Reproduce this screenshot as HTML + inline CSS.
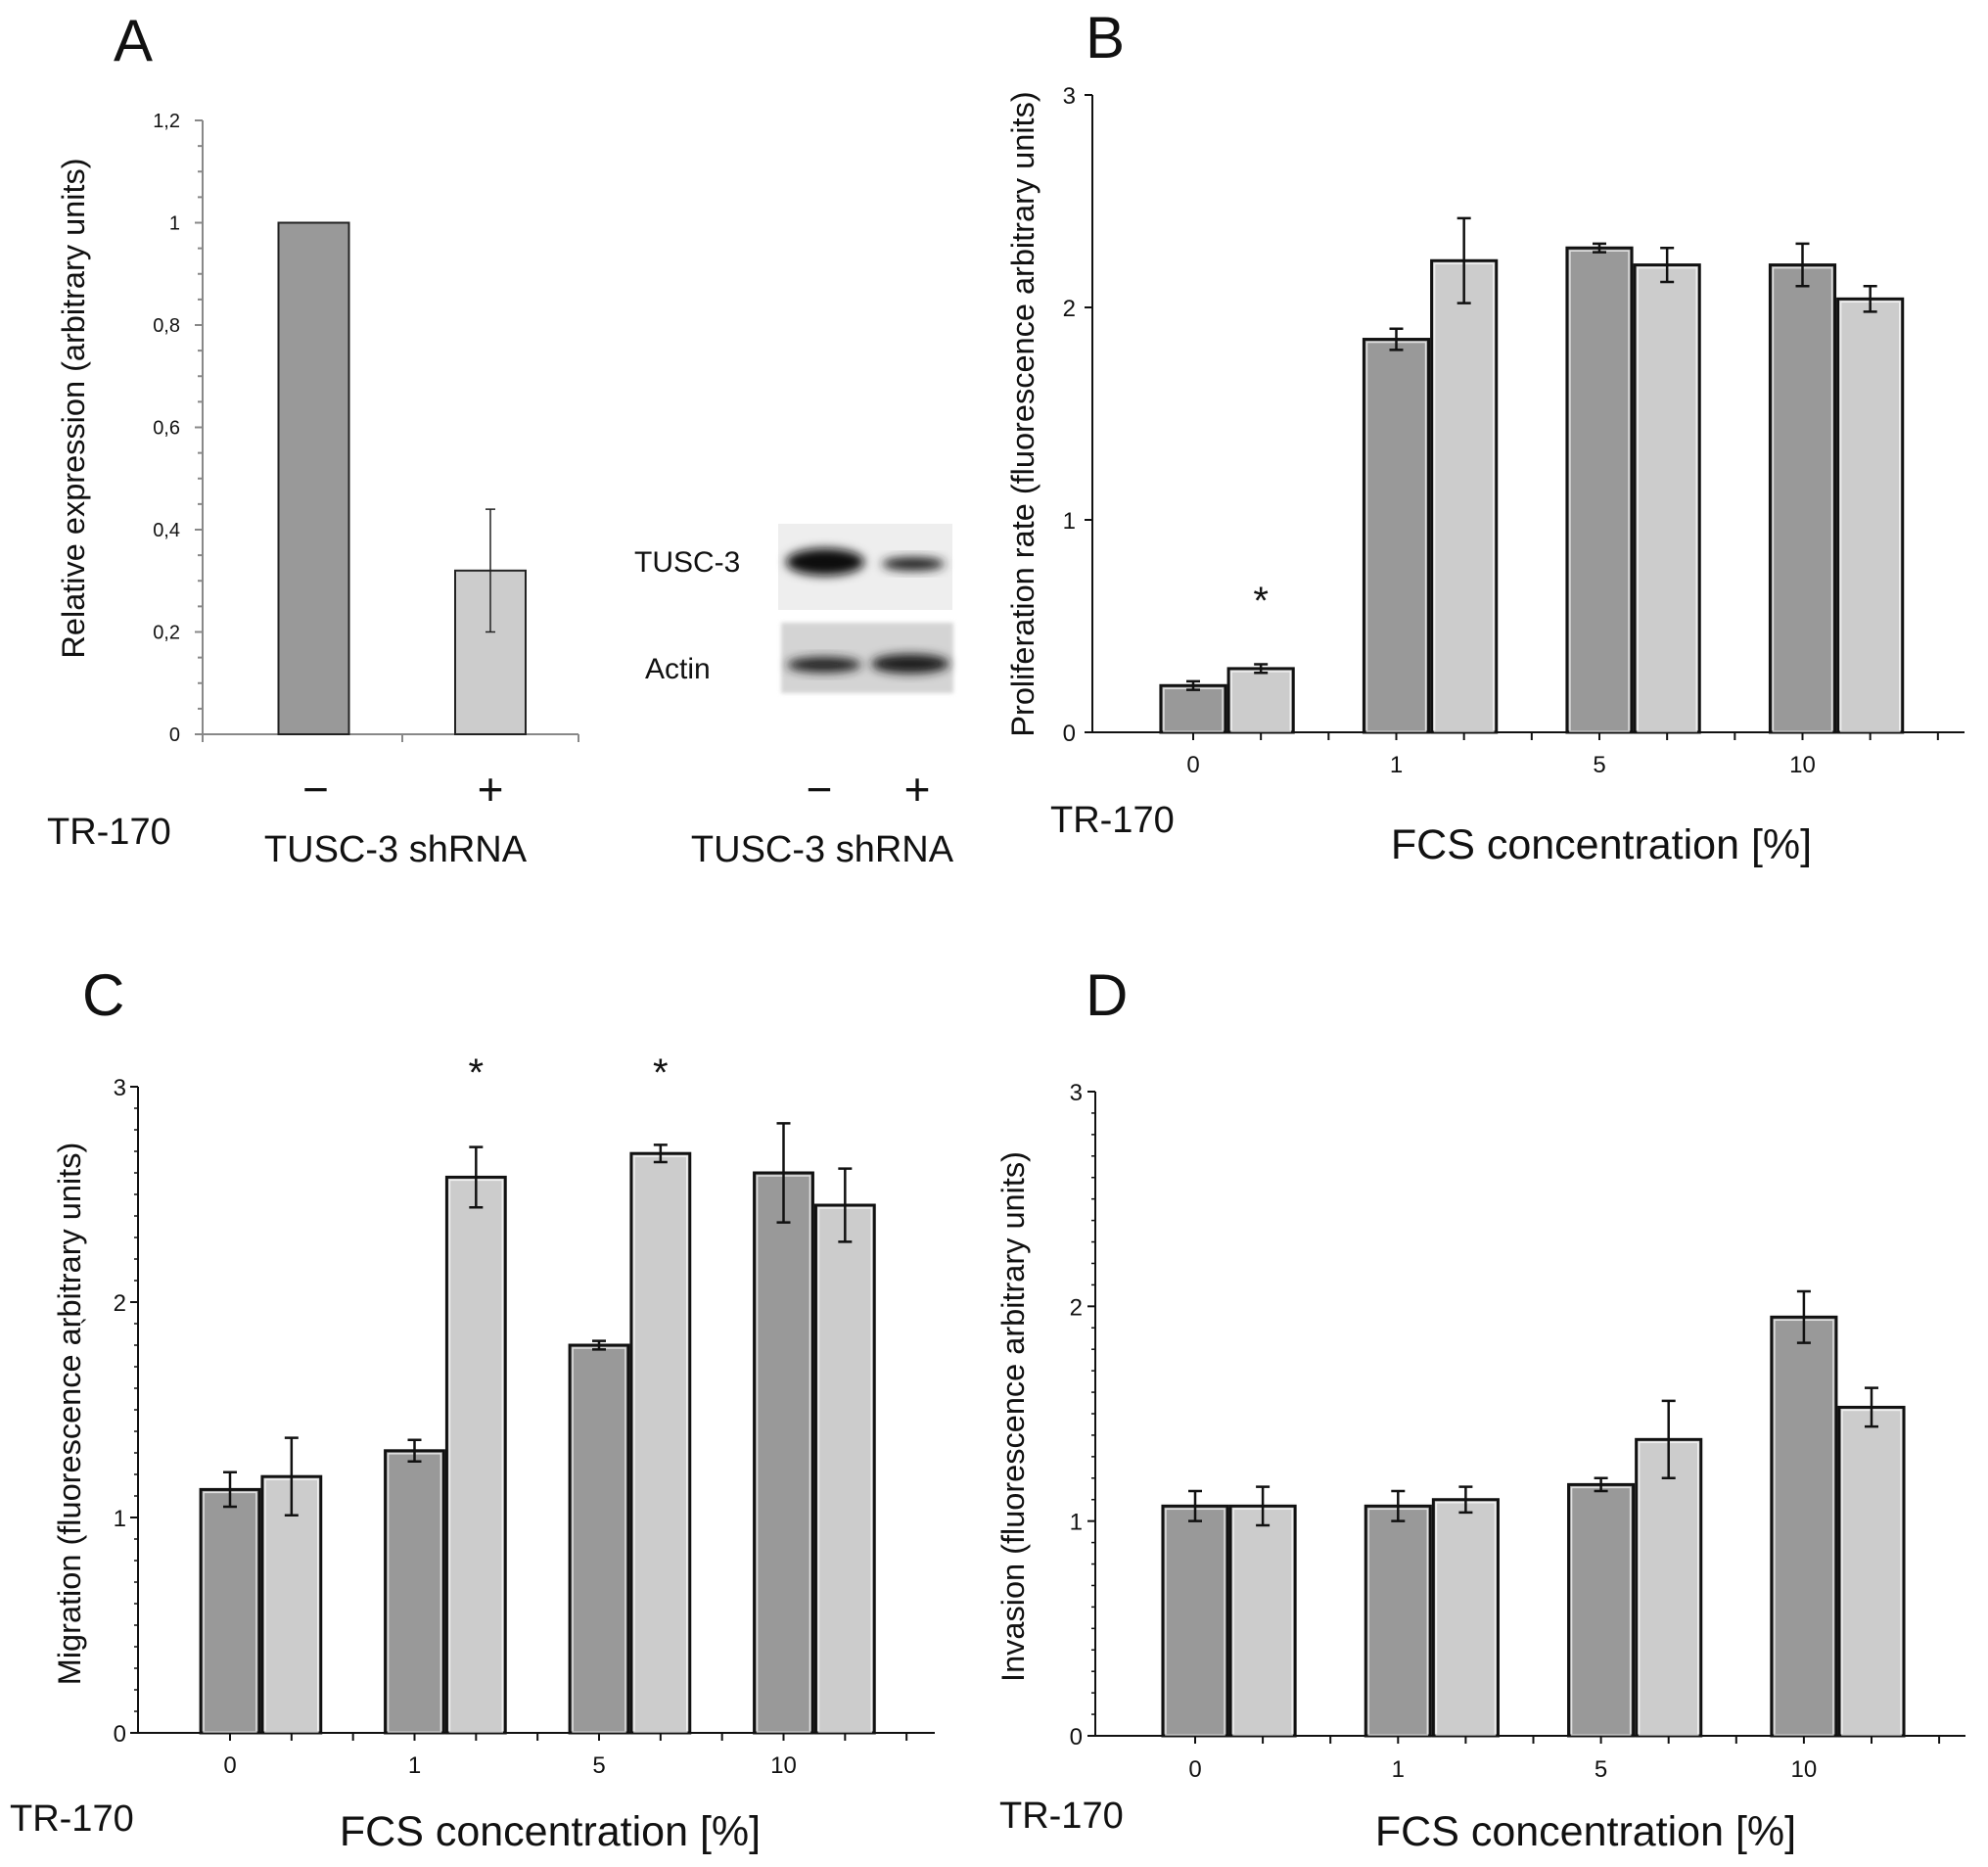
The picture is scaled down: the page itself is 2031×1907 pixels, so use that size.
<!DOCTYPE html>
<html><head><meta charset="utf-8"><style>
html,body{margin:0;padding:0;background:#fff}
svg{display:block;font-family:"Liberation Sans",Arial,sans-serif}
</style></head><body>
<svg id="fig" width="2031" height="1907" viewBox="0 0 2031 1907" xmlns="http://www.w3.org/2000/svg">
<defs><filter id="blur" x="-20%" y="-50%" width="140%" height="200%"><feGaussianBlur stdDeviation="5"/></filter>
<filter id="blur2"><feGaussianBlur stdDeviation="2"/></filter></defs>
<g id="layer"></g>
</svg>
<script>
// Panel A data
const aCategories = ["−", "+"];
const aValues = [1.0, 0.32];
const aErrors = [0, 0.12];
const aTicks = ["0", "0,2", "0,4", "0,6", "0,8", "1", "1,2"];
// Panels B, C, D data
const fcsCategories = ["0", "1", "5", "10"];
const bControl = [0.22, 1.85, 2.28, 2.20];
const bControlErr = [0.02, 0.05, 0.02, 0.10];
const bShrna = [0.30, 2.22, 2.20, 2.04];
const bShrnaErr = [0.02, 0.20, 0.08, 0.06];
const cControl = [1.13, 1.31, 1.80, 2.60];
const cControlErr = [0.08, 0.05, 0.02, 0.23];
const cShrna = [1.19, 2.58, 2.69, 2.45];
const cShrnaErr = [0.18, 0.14, 0.04, 0.17];
const dControl = [1.07, 1.07, 1.17, 1.95];
const dControlErr = [0.07, 0.07, 0.03, 0.12];
const dShrna = [1.07, 1.10, 1.38, 1.53];
const dShrnaErr = [0.09, 0.06, 0.18, 0.09];
const fcsTicks = ["0", "1", "2", "3"];
const fcsTickLabels = ["0", "1", "2", "3"];

const NS = "http://www.w3.org/2000/svg";
const layer = document.getElementById('layer');
function mk(tag, attrs, parent, text) {
  const e = document.createElementNS(NS, tag);
  for (const k in attrs) e.setAttribute(k, attrs[k]);
  if (text !== undefined) e.textContent = text;
  (parent || layer).appendChild(e);
  return e;
}
function txt(x, y, s, size, anchor, parent, extra) {
  const a = {x: x, y: y, 'font-size': size, 'text-anchor': anchor || 'start', fill: '#111'};
  if (extra) for (const k in extra) a[k] = extra[k];
  return mk('text', a, parent, s);
}

// ---------- Panel A ----------
(function () {
  const g = mk('g', {});
  
  
  const x0 = 207, x1 = 591, y0 = 750, yTop = 123, vmax = 1.2;
  const y = v => y0 - (v / vmax) * (y0 - yTop);
  const lab = txt(116, 62, 'A', 60, 'start', g);
  
  
  const ax = mk('path', {d: `M${x0} ${yTop}V${y0}H${x1}`, stroke: '#888', 'stroke-width': 2, fill: 'none'}, g);
  
  
  for (let i = 0; i <= 24; i++) {
    const v = i * 0.05, yy = y(v);
    mk('line', {x1: x0 - (i % 4 === 0 ? 8 : 5), x2: x0, y1: yy, y2: yy, stroke: '#888', 'stroke-width': 2}, g);
  }
  aTicks.forEach((t, i) => {
    const tl = txt(184, y(i * 0.2) + 7, t, 20, 'end', g);
    
    
  });
  [x0, 411, x1].forEach(xx => mk('line', {x1: xx, x2: xx, y1: y0, y2: y0 + 8, stroke: '#888', 'stroke-width': 2}, g));
  const yt = txt(0, 0, 'Relative expression (arbitrary units)', 32.5, 'middle', g, {transform: 'translate(86,417) rotate(-90)'});
  
  
  const centers = [320.5, 501];
  const fills = ['#999', '#ccc'];
  const bw = 72;
  aValues.forEach((v, i) => {
    const r = mk('rect', {x: centers[i] - bw / 2, y: y(v), width: bw, height: y0 - y(v), fill: fills[i], stroke: '#222', 'stroke-width': 2}, g);
    
    
    if (aErrors[i] > 0) {
      const e = mk('path', {d: `M${centers[i]} ${y(v + aErrors[i])}V${y(v - aErrors[i])}M${centers[i] - 5} ${y(v + aErrors[i])}h10M${centers[i] - 5} ${y(v - aErrors[i])}h10`, stroke: '#222', 'stroke-width': 1.5, fill: 'none'}, g);
      
      
    }
    const c = txt(centers[i] + (i ? 0 : 2), 822, aCategories[i], 46, 'middle', g);
    
    
  });
  const tr = txt(48, 862, 'TR-170', 38, 'start', g);
  
  
  const xs = txt(404, 880, 'TUSC-3 shRNA', 38, 'middle', g);
  
  
  const wb = mk('g', {}, g);
  
  
  mk('rect', {x: 795, y: 535, width: 178, height: 88, fill: '#eee'}, wb);
  mk('ellipse', {cx: 843, cy: 574, rx: 40, ry: 14, fill: '#111', filter: 'url(#blur)'}, wb);
  mk('ellipse', {cx: 933, cy: 576, rx: 32, ry: 7, fill: '#222', filter: 'url(#blur)'}, wb);
  mk('rect', {x: 798, y: 636, width: 176, height: 72, fill: '#d4d4d4', filter: 'url(#blur2)'}, wb);
  mk('ellipse', {cx: 842, cy: 679, rx: 38, ry: 8, fill: '#222', filter: 'url(#blur)'}, wb);
  mk('ellipse', {cx: 930, cy: 678, rx: 40, ry: 10, fill: '#1a1a1a', filter: 'url(#blur)'}, wb);
  txt(648, 584, 'TUSC-3', 30, 'start', wb);
  txt(659, 693, 'Actin', 30, 'start', wb);
  txt(837, 822, '−', 46, 'middle', wb);
  txt(937, 822, '+', 46, 'middle', wb);
  txt(840, 880, 'TUSC-3 shRNA', 38, 'middle', wb);
})();

// ---------- grouped bar panels ----------
function groupPanel(cfg, ctrl, ctrlErr, sh, shErr) {
  const g = mk('g', {});
  
  
  const y = v => cfg.y0 - (v / 3) * (cfg.y0 - cfg.y3);
  const xc = i => cfg.t0 + cfg.G * i;
  const bw = cfg.G / 3;
  const lab = txt(1109 - (cfg.id === 'c' ? 1025 : 0), cfg.labY, cfg.id.toUpperCase(), 60, 'start', g);
  
  
  const ax = mk('path', {d: `M${cfg.ax} ${cfg.y3}V${cfg.y0}H${cfg.axEnd}`, stroke: '#111', 'stroke-width': 2, fill: 'none'}, g);
  
  
  if (cfg.minor) for (let i = 1; i < 30; i++) {
    if (i % 10 === 0) continue;
    mk('line', {x1: cfg.ax - 4, x2: cfg.ax, y1: y(i / 10), y2: y(i / 10), stroke: '#111', 'stroke-width': 1.5}, g);
  }
  fcsTicks.forEach((t, i) => {
    const v = +t;
    mk('line', {x1: cfg.ax - 8, x2: cfg.ax, y1: y(v), y2: y(v), stroke: '#111', 'stroke-width': 2}, g);
    const tl = txt(cfg.tickRight, y(v) + 9, fcsTickLabels[i], 24, 'end', g);
    
    
  });
  for (let k = 0; k < 12; k++) {
    const xx = cfg.t0 + k * cfg.G / 3;
    if (xx > cfg.axEnd) break;
    mk('line', {x1: xx, x2: xx, y1: cfg.y0, y2: cfg.y0 + 8, stroke: '#111', 'stroke-width': 2}, g);
  }
  fcsCategories.forEach((c, i) => {
    const tl = txt(xc(i), cfg.xlabY, c, 24, 'middle', g);
    
    
    [[ctrl, ctrlErr, '#999', xc(i), 'control'], [sh, shErr, '#ccc', xc(i) + bw, 'shrna']].forEach(s => {
      const v = s[0][i], e = s[1][i], cx = s[3];
      const r = mk('rect', {x: cx - bw / 2 + 1.5, y: y(v), width: bw - 3, height: cfg.y0 - y(v), fill: s[2], stroke: '#111', 'stroke-width': 3}, g);
      
      
      mk('rect', {x: cx - bw / 2 + 4.5, y: y(v) + 3, width: bw - 9, height: cfg.y0 - y(v) - 4, fill: 'none', stroke: '#fff', 'stroke-width': 1.5, opacity: 0.7}, g);
      const eb = mk('path', {d: `M${cx} ${y(v + e)}V${y(v - e)}M${cx - 7} ${y(v + e)}h14M${cx - 7} ${y(v - e)}h14`, stroke: '#111', 'stroke-width': 2.5, fill: 'none'}, g);
      
      
    });
  });
  (cfg.stars || []).forEach(i => {
    const st = txt(xc(i) + bw, cfg.starY + 16, '*', 40, 'middle', g);
    
    
  });
  const yt = txt(0, 0, cfg.ytitle, 32.5, 'middle', g, {transform: `translate(${cfg.ytX + 12},${cfg.ytY}) rotate(-90)`});
  
  
  const tr = txt(cfg.trX, cfg.trY, 'TR-170', 38, 'start', g);
  
  
  const xt = txt(cfg.fcsX, cfg.fcsY, 'FCS concentration [%]', 43, 'middle', g);
  
  
  return g;
}

groupPanel({id: 'b', y0: 748, y3: 97, ax: 1116, axEnd: 2007, t0: 1219, G: 207.5, labY: 59, tickRight: 1099,
  xlabY: 789, stars: [0], starY: 611, ytitle: 'Proliferation rate (fluorescence arbitrary units)', ytX: 1044, ytY: 423,
  trX: 1073, trY: 850, fcsX: 1636, fcsY: 877, minor: false}, bControl, bControlErr, bShrna, bShrnaErr);
const gc = groupPanel({id: 'c', y0: 1770, y3: 1110, ax: 141, axEnd: 955, t0: 235, G: 188.5, labY: 1037, tickRight: 129,
  xlabY: 1811, stars: [1, 2], starY: 1093, ytitle: 'Migration (fluorescence arbitrary units)', ytX: 70, ytY: 1444,
  trX: 10, trY: 1870, fcsX: 562, fcsY: 1885, minor: true}, cControl, cControlErr, cShrna, cShrnaErr);
const acc = txt(86, 1367, '´', 26, 'middle', gc);


groupPanel({id: 'd', y0: 1773, y3: 1115, ax: 1119, axEnd: 2008, t0: 1221, G: 207.3, labY: 1037, tickRight: 1106,
  xlabY: 1815, stars: [], starY: 0, ytitle: 'Invasion (fluorescence arbitrary units)', ytX: 1034, ytY: 1447,
  trX: 1021, trY: 1867, fcsX: 1620, fcsY: 1885, minor: true}, dControl, dControlErr, dShrna, dShrnaErr);
</script>
</body></html>
